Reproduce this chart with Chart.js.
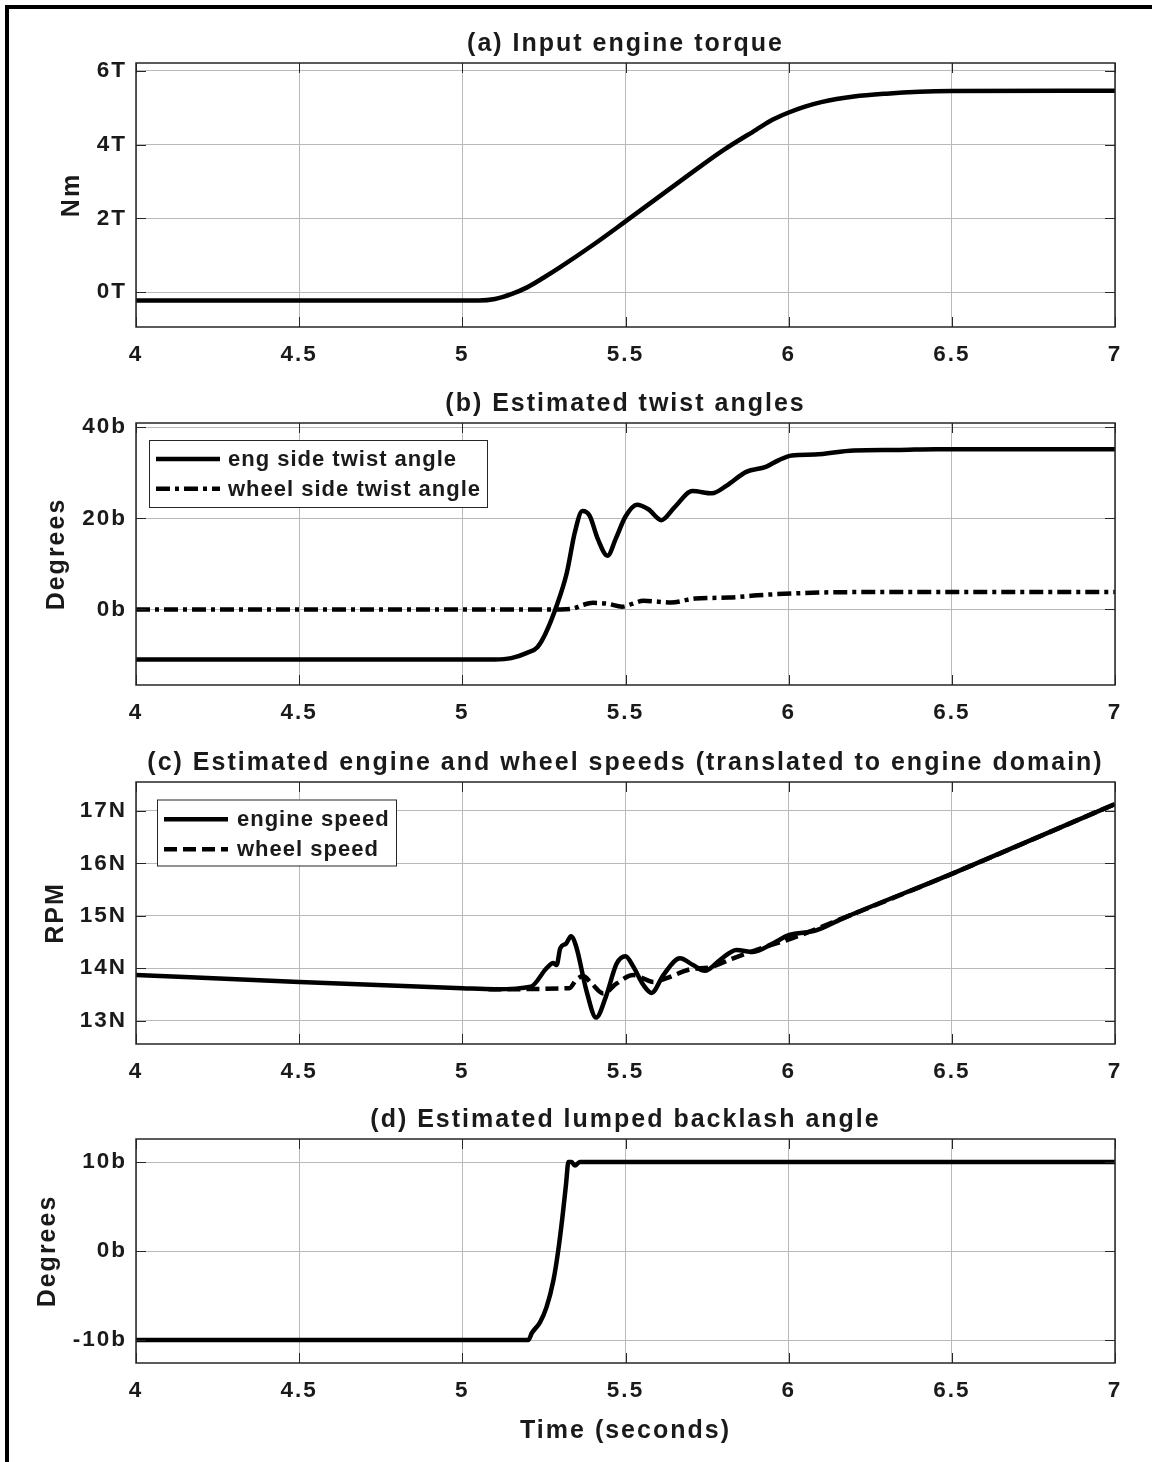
<!DOCTYPE html>
<html>
<head>
<meta charset="utf-8">
<script src="https://cdn.jsdelivr.net/npm/chart.js@4.4.1/dist/chart.umd.min.js"></script>
<style>
  body { margin: 0; background: #fff; width: 1152px; height: 1462px; position: relative; overflow: hidden; }
  canvas { position: absolute; left: 0; }
  #frame { position: absolute; left: 5px; top: 5px; width: 1200px; height: 1500px;
           border-left: 4px solid #000; border-top: 4px solid #000; z-index: 5; pointer-events: none; }
</style>
</head>
<body>
<div id="frame"></div>
<canvas id="pa" width="1152" height="360" style="top:13px"></canvas>
<canvas id="pb" width="1152" height="359" style="top:373px"></canvas>
<canvas id="pc" width="1152" height="357" style="top:732px"></canvas>
<canvas id="pd" width="1152" height="373" style="top:1089px"></canvas>
<script>
const FONT = "'Liberation Sans', Arial, sans-serif";
const INK = '#1a1a1a';
const GRID = '#b9b9b9';

const timeTicks = [4, 4.5, 5, 5.5, 6, 6.5, 7];

// (a) input engine torque
const torqueTime  = [4, 5.05, 5.1, 5.15, 5.2, 5.25, 5.3, 5.4, 5.5, 5.6, 5.7, 5.8, 5.9, 5.95, 6.0, 6.05, 6.1, 6.2, 6.3, 6.4, 6.5, 7];
const torqueValue = [-0.22, -0.22, -0.18, -0.05, 0.14, 0.4, 0.68, 1.28, 1.92, 2.57, 3.22, 3.85, 4.4, 4.67, 4.87, 5.03, 5.15, 5.3, 5.38, 5.43, 5.45, 5.46];
const torqueTicks = [0, 2, 4, 6];
const torqueTickLabels = ['0T', '2T', '4T', '6T'];

// (b) estimated twist angles
const engTwistTime  = [4, 5.1, 5.15, 5.2, 5.23, 5.255, 5.29, 5.32, 5.345, 5.368, 5.39, 5.415, 5.445, 5.47, 5.5, 5.535, 5.57, 5.61, 5.65, 5.705, 5.765, 5.81, 5.87, 5.93, 5.97, 6.01, 6.08, 6.2, 6.33, 6.45, 7];
const engTwistValue = [-11, -11, -10.7, -9.5, -8.3, -5.3, 1, 8, 17, 21.6, 20.6, 15.5, 11.8, 15.5, 20.4, 23.0, 22.0, 19.6, 22.4, 26.0, 25.5, 27.2, 30.2, 31.3, 32.8, 33.8, 34.0, 34.9, 35.0, 35.2, 35.2];
const wheelTwistTime  = [4, 5.3, 5.34, 5.37, 5.4, 5.445, 5.49, 5.52, 5.555, 5.6, 5.64, 5.714, 5.816, 5.905, 6.007, 6.2, 7];
const wheelTwistValue = [0, 0, 0.2, 1.0, 1.45, 1.25, 0.6, 1.2, 1.9, 1.7, 1.5, 2.4, 2.6, 3.1, 3.5, 3.8, 3.8];
const twistTicks = [0, 20, 40];
const twistTickLabels = ['0b', '20b', '40b'];

// (c) engine and wheel speeds
const engSpeedTime  = [4, 4.5, 5.0, 5.1, 5.21, 5.258, 5.279, 5.289, 5.3, 5.318, 5.333, 5.349, 5.38, 5.41, 5.44, 5.473, 5.5, 5.524, 5.555, 5.58, 5.616, 5.667, 5.707, 5.743, 5.79, 5.84, 5.89, 5.951, 6.0, 6.084, 6.173, 6.5, 7];
const engSpeedValue = [13.87, 13.74, 13.62, 13.6, 13.65, 14.0, 14.1, 14.06, 14.38, 14.47, 14.61, 14.41, 13.58, 13.06, 13.46, 14.09, 14.23, 14.03, 13.68, 13.53, 13.87, 14.19, 14.06, 13.95, 14.16, 14.35, 14.31, 14.47, 14.63, 14.72, 14.97, 15.8, 17.13];
const wheelSpeedTime  = [5.08, 5.328, 5.349, 5.37, 5.396, 5.432, 5.473, 5.524, 5.586, 5.626, 5.698, 5.76, 5.83, 5.93, 6.01, 6.173, 6.5, 7];
const wheelSpeedValue = [13.6, 13.62, 13.78, 13.85, 13.71, 13.52, 13.71, 13.87, 13.74, 13.81, 13.98, 14.02, 14.19, 14.41, 14.57, 14.97, 15.8, 17.13];
const speedTicks = [13, 14, 15, 16, 17];
const speedTickLabels = ['13N', '14N', '15N', '16N', '17N'];

// (d) lumped backlash angle
const backlashTime  = [4, 5.202, 5.213, 5.238, 5.258, 5.279, 5.294, 5.307, 5.318, 5.325, 5.335, 5.345, 5.36, 7];
const backlashValue = [-10, -10, -9.2, -8.0, -6.3, -3.3, 0.1, 3.9, 7.6, 10.0, 10.0, 9.6, 10.0, 10.0];
const backlashTicks = [-10, 0, 10];
const backlashTickLabels = ['-10b', '0b', '10b'];

const pts = (ts, vs) => ts.map((t, i) => ({ x: t, y: vs[i] }));

// MATLAB style box, inner tick marks and in-axes legend
const matlabBox = {
  id: 'matlabBox',
  beforeDraw(chart) { chart.ctx.letterSpacing = '2px'; },
  afterDraw(chart, args, opts) {
    const { ctx, chartArea: a, scales: { x, y } } = chart;
    ctx.save();
    ctx.letterSpacing = '0px';
    ctx.strokeStyle = '#262626';
    ctx.lineWidth = 1;
    ctx.beginPath();
    x.ticks.forEach(t => {
      const px = Math.round(x.getPixelForValue(t.value)) + 0.5;
      ctx.moveTo(px, a.bottom); ctx.lineTo(px, a.bottom - 10);
      ctx.moveTo(px, a.top); ctx.lineTo(px, a.top + 10);
    });
    y.ticks.forEach(t => {
      const py = Math.round(y.getPixelForValue(t.value)) + 0.5;
      ctx.moveTo(a.left, py); ctx.lineTo(a.left + 10, py);
      ctx.moveTo(a.right, py); ctx.lineTo(a.right - 10, py);
    });
    ctx.stroke();
    ctx.lineWidth = 1.5;
    ctx.strokeRect(a.left, a.top, a.right - a.left, a.bottom - a.top);

    const lg = opts.legend;
    if (lg) {
      const bx = a.left + lg.x, by = a.top + lg.y;
      ctx.fillStyle = '#fff';
      ctx.fillRect(bx, by, lg.w, lg.h);
      ctx.lineWidth = 1;
      ctx.strokeStyle = '#262626';
      ctx.strokeRect(bx + 0.5, by + 0.5, lg.w, lg.h);
      ctx.font = 'bold 22px ' + FONT;
      ctx.letterSpacing = '1px';
      ctx.textBaseline = 'middle';
      ctx.fillStyle = INK;
      chart.data.datasets.forEach((ds, i) => {
        const ry = by + lg.rows[i];
        ctx.strokeStyle = ds.borderColor;
        ctx.lineWidth = ds.borderWidth;
        ctx.setLineDash(ds.borderDash || []);
        ctx.beginPath();
        ctx.moveTo(bx + 7, ry); ctx.lineTo(bx + 71, ry);
        ctx.stroke();
        ctx.fillText(ds.label, bx + lg.textX, ry + 1);
      });
    }
    ctx.restore();
  }
};

function panel(id, o) {
  const canvas = document.getElementById(id);
  return new Chart(canvas, {
    type: 'line',
    data: { datasets: o.datasets.map(d => ({
      label: d.label,
      data: d.data,
      borderColor: '#000',
      borderWidth: 4.5,
      borderDash: d.dash || [],
      pointRadius: 0,
      cubicInterpolationMode: 'monotone',
      fill: false
    })) },
    options: {
      responsive: false,
      animation: false,
      devicePixelRatio: 1,
      layout: { padding: { left: 0, right: 37, top: 0, bottom: 0 } },
      scales: {
        x: {
          type: 'linear', min: 4, max: 7,
          afterBuildTicks: s => { s.ticks = timeTicks.map(v => ({ value: v })); },
          afterFit: s => { s.height = o.xHeight; },
          grid: { color: GRID, lineWidth: 1, drawTicks: false },
          border: { display: false },
          ticks: { padding: 14.5, color: INK, font: { family: FONT, size: 22.5, weight: 'bold' },
                   callback: v => String(v) },
          title: o.xTitle ? { display: true, text: o.xTitle, color: INK, padding: { top: 0, bottom: 15.6 },
                   font: { family: FONT, size: 25, weight: 'bold' } } : { display: false }
        },
        y: {
          type: 'linear', min: o.yMin, max: o.yMax,
          afterBuildTicks: s => { s.ticks = o.yTicks.map(v => ({ value: v })); },
          afterFit: s => { s.width = 136; },
          grid: { color: GRID, lineWidth: 1, drawTicks: false },
          border: { display: false },
          ticks: {
            padding: 9, color: INK, font: { family: FONT, size: 22.5, weight: 'bold' },
            callback: v => o.yTickLabels[o.yTicks.indexOf(v)]
          },
          title: { display: true, text: o.yTitle, color: INK, padding: { top: o.yTitlePad, bottom: 0 },
                   font: { family: FONT, size: 25, weight: 'bold' } }
        }
      },
      plugins: {
        legend: { display: false },
        tooltip: { enabled: false },
        title: {
          display: true, text: o.title, color: INK, fullSize: false,
          font: { family: FONT, size: 25, weight: 'bold' },
          padding: { top: 15.7, bottom: 4.3 }
        },
        matlabBox: { legend: o.legend || null }
      }
    },
    plugins: [matlabBox]
  });
}

panel('pa', {
  title: '(a) Input engine torque',
  yTitle: 'Nm', yTitlePad: 57,
  yMin: -0.94, yMax: 6.21, yTicks: torqueTicks, yTickLabels: torqueTickLabels,
  xHeight: 46,
  datasets: [{ label: 'torque', data: pts(torqueTime, torqueValue) }]
});

panel('pb', {
  title: '(b) Estimated twist angles',
  yTitle: 'Degrees', yTitlePad: 42,
  yMin: -16.6, yMax: 40.94, yTicks: twistTicks, yTickLabels: twistTickLabels,
  xHeight: 47,
  datasets: [
    { label: 'eng side twist angle', data: pts(engTwistTime, engTwistValue) },
    { label: 'wheel side twist angle', data: pts(wheelTwistTime, wheelTwistValue), dash: [14, 5, 4, 5] }
  ],
  legend: { x: 13, y: 17, w: 338, h: 67, textX: 79, rows: [19, 48.7] }
});

panel('pc', {
  title: '(c) Estimated engine and wheel speeds (translated to engine domain)',
  yTitle: 'RPM', yTitlePad: 41,
  yMin: 12.556, yMax: 17.55, yTicks: speedTicks, yTickLabels: speedTickLabels,
  xHeight: 45,
  datasets: [
    { label: 'engine speed', data: pts(engSpeedTime, engSpeedValue) },
    { label: 'wheel speed', data: pts(wheelSpeedTime, wheelSpeedValue), dash: [13, 6] }
  ],
  legend: { x: 21, y: 17.5, w: 239, h: 66, textX: 80, rows: [19.7, 49.7] }
});

panel('pd', {
  title: '(d) Estimated lumped backlash angle',
  yTitle: 'Degrees', yTitlePad: 33,
  yMin: -12.57, yMax: 12.59, yTicks: backlashTicks, yTickLabels: backlashTickLabels,
  xHeight: 99, xTitle: 'Time (seconds)',
  datasets: [{ label: 'backlash', data: pts(backlashTime, backlashValue) }]
});
</script>
</body>
</html>
